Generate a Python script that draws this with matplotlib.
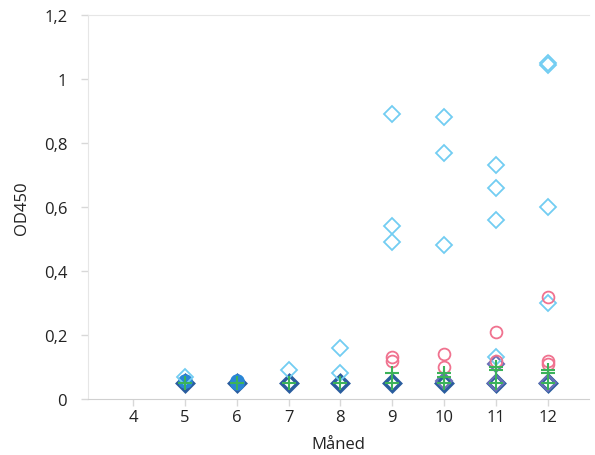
import matplotlib.pyplot as plt

plt.rcParams['font.family'] = ['Open Sans', 'DejaVu Sans']

# Målinger per måned (OD450)
lys_blaa_x = [5, 7, 8, 8, 9, 9, 9, 10, 10, 10, 11, 11, 11, 11, 12, 12, 12, 12]
lys_blaa_y = [0.07, 0.09, 0.16, 0.08, 0.89, 0.54, 0.49, 0.88, 0.77, 0.48,
              0.73, 0.66, 0.56, 0.13, 1.05, 1.045, 0.60, 0.30]

rosa_x = [9, 9, 10, 10, 11, 11, 12, 12, 12]
rosa_y = [0.13, 0.12, 0.14, 0.10, 0.21, 0.12, 0.32, 0.12, 0.11]

gronn_x = [5, 6, 7, 8, 9, 9, 10, 10, 10, 11, 11, 11, 12, 12, 12]
gronn_y = [0.05, 0.05, 0.05, 0.05, 0.08, 0.05, 0.08, 0.07, 0.05,
           0.10, 0.09, 0.05, 0.09, 0.08, 0.05]

mork_blaa_x = [5, 6, 7, 8, 9, 10, 11, 12]
mork_blaa_y = [0.05, 0.05, 0.05, 0.05, 0.05, 0.05, 0.05, 0.05]

blaa_x = [5, 6, 6]
blaa_y = [0.055, 0.05, 0.055]

lilla_x = [10, 11, 11, 12]
lilla_y = [0.055, 0.11, 0.05, 0.05]

x_ticks = [4, 5, 6, 7, 8, 9, 10, 11, 12]
y_ticks = [0, 0.2, 0.4, 0.6, 0.8, 1.0, 1.2]
y_tick_labels = ['0', '0,2', '0,4', '0,6', '0,8', '1', '1,2']

fig = plt.figure(figsize=(5.95, 4.56), dpi=100)
ax = fig.add_axes([0.148, 0.123, 0.842, 0.842])

ax.plot(mork_blaa_x, mork_blaa_y, 'D', ms=8, mfc='none', mec='#2a5d9e', mew=2.5)
ax.plot(blaa_x, blaa_y, 'o', ms=9, mfc='#2a86d6', mec='#2a86d6', mew=1.5)
ax.plot(lilla_x, lilla_y, 'D', ms=8, mfc='none', mec='#6a6fb8', mew=1.5)
ax.plot(lys_blaa_x, lys_blaa_y, 'D', ms=8, mfc='none', mec='#72cdf2', mew=1.3)
ax.plot(rosa_x, rosa_y, 'o', ms=8.5, mfc='none', mec='#f0728f', mew=1.3)
ax.plot(gronn_x, gronn_y, '+', ms=10, mec='#3cb35a', mew=1.5)

ax.set_xlim(3.13, 12.8)
ax.set_ylim(0, 1.2)
ax.set_xticks(x_ticks)
ax.set_yticks(y_ticks)
ax.set_yticklabels(y_tick_labels)
ax.tick_params(axis='both', colors='#d8d8d8', labelcolor='#222222',
               labelsize=12, length=5, width=1)
ax.tick_params(axis='y', pad=10)
ax.tick_params(axis='x', pad=2)

for side in ['left', 'top']:
    ax.spines[side].set_color('#e6e6e6')
ax.spines['bottom'].set_color('#d0d0d0')
ax.spines['right'].set_visible(False)

ax.set_xlabel('Måned', fontsize=12, color='#222222', labelpad=8)
ax.set_ylabel('OD450', fontsize=12, color='#222222', labelpad=10)

plt.savefig('out.png')
